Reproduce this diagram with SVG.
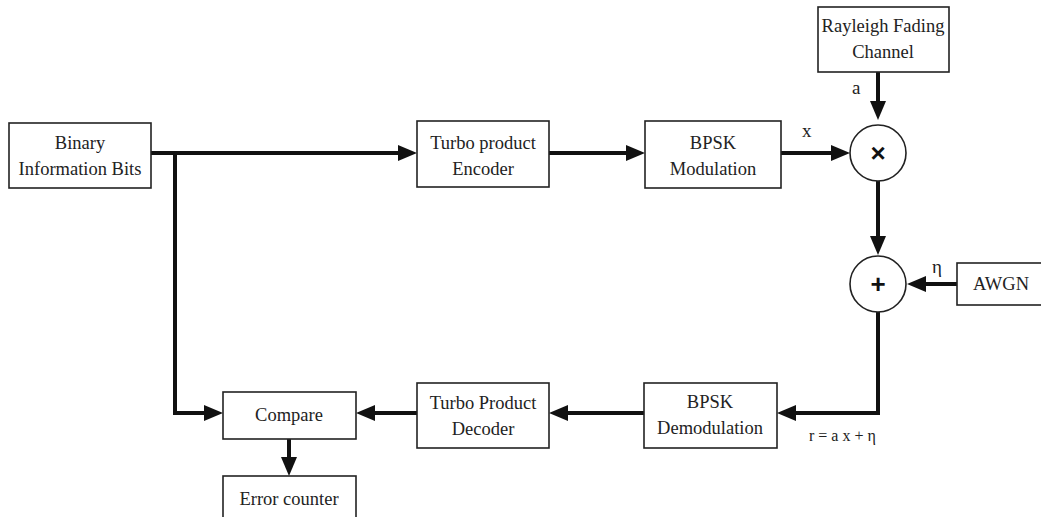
<svg xmlns="http://www.w3.org/2000/svg" width="1041" height="517" viewBox="0 0 1041 517">
<defs>
<style>
.box{fill:#fff;stroke:#222;stroke-width:1.6}
.circ{fill:#fff;stroke:#222;stroke-width:1.6}
.t{font-family:"Liberation Serif","Times New Roman",serif;font-size:18.5px;fill:#222;text-anchor:middle}
.lbl{font-family:"Liberation Serif","Times New Roman",serif;font-size:19px;fill:#222}
.sym{font-family:"Liberation Sans",Arial,sans-serif;font-weight:bold;font-size:26px;fill:#111;text-anchor:middle}
.c{fill:none;stroke:#111;stroke-width:4}
</style>
<marker id="ah" markerUnits="userSpaceOnUse" markerWidth="20" markerHeight="16" refX="8" refY="8" orient="auto">
<path d="M0,0 L19,8 L0,16 z" fill="#111"/>
</marker>
</defs>
<g id="connectors">
<line class="c" x1="151" y1="153" x2="406" y2="153" marker-end="url(#ah)"/>
<line class="c" x1="549" y1="153" x2="634" y2="153" marker-end="url(#ah)"/>
<line class="c" x1="781" y1="153" x2="839" y2="153" marker-end="url(#ah)"/>
<line class="c" x1="878" y1="72" x2="878" y2="109" marker-end="url(#ah)"/>
<line class="c" x1="878" y1="181" x2="878" y2="244" marker-end="url(#ah)"/>
<line class="c" x1="957" y1="284" x2="918" y2="284" marker-end="url(#ah)"/>
<polyline class="c" points="878,312 878,413 788,413" marker-end="url(#ah)"/>
<line class="c" x1="644" y1="413" x2="560" y2="413" marker-end="url(#ah)"/>
<line class="c" x1="417" y1="413" x2="367" y2="413" marker-end="url(#ah)"/>
<polyline class="c" points="175,153 175,413 212,413" marker-end="url(#ah)"/>
<line class="c" x1="289" y1="439" x2="289" y2="465" marker-end="url(#ah)"/>
<text class="lbl" x="802" y="137">x</text>
<text class="lbl" x="852" y="94">a</text>
<text class="lbl" x="932" y="273">η</text>
<text class="lbl" x="809" y="441" style="font-size:16px">r = a x + η</text>
</g>
<g id="binary">
<rect class="box" x="9" y="123" width="142" height="65"/>
<text class="t" x="80" y="149">Binary</text>
<text class="t" x="80" y="175">Information Bits</text>
</g>
<g id="encoder">
<rect class="box" x="417" y="121" width="132" height="66"/>
<text class="t" x="483" y="149">Turbo product</text>
<text class="t" x="483" y="175">Encoder</text>
</g>
<g id="bpskmod">
<rect class="box" x="645" y="121" width="136" height="67"/>
<text class="t" x="713" y="149">BPSK</text>
<text class="t" x="713" y="175">Modulation</text>
</g>
<g id="rayleigh">
<rect class="box" x="818" y="7" width="131" height="65"/>
<text class="t" x="883" y="32">Rayleigh Fading</text>
<text class="t" x="883" y="58">Channel</text>
</g>
<g id="mult">
<circle class="circ" cx="878" cy="153" r="28"/>
<text class="sym" x="878" y="162">×</text>
</g>
<g id="add">
<circle class="circ" cx="878" cy="284" r="28"/>
<text class="sym" x="878" y="293">+</text>
</g>
<g id="awgn">
<rect class="box" x="957" y="263" width="90" height="42"/>
<text class="t" x="1001" y="290">AWGN</text>
</g>
<g id="bpskdemod">
<rect class="box" x="644" y="383" width="133" height="65"/>
<text class="t" x="710" y="408">BPSK</text>
<text class="t" x="710" y="434">Demodulation</text>
</g>
<g id="decoder">
<rect class="box" x="417" y="383" width="132" height="65"/>
<text class="t" x="483" y="409">Turbo Product</text>
<text class="t" x="483" y="435">Decoder</text>
</g>
<g id="compare">
<rect class="box" x="223" y="392" width="133" height="47"/>
<text class="t" x="289" y="421">Compare</text>
</g>
<g id="error">
<rect class="box" x="223" y="476" width="133" height="45"/>
<text class="t" x="289" y="505">Error counter</text>
</g>
</svg>
